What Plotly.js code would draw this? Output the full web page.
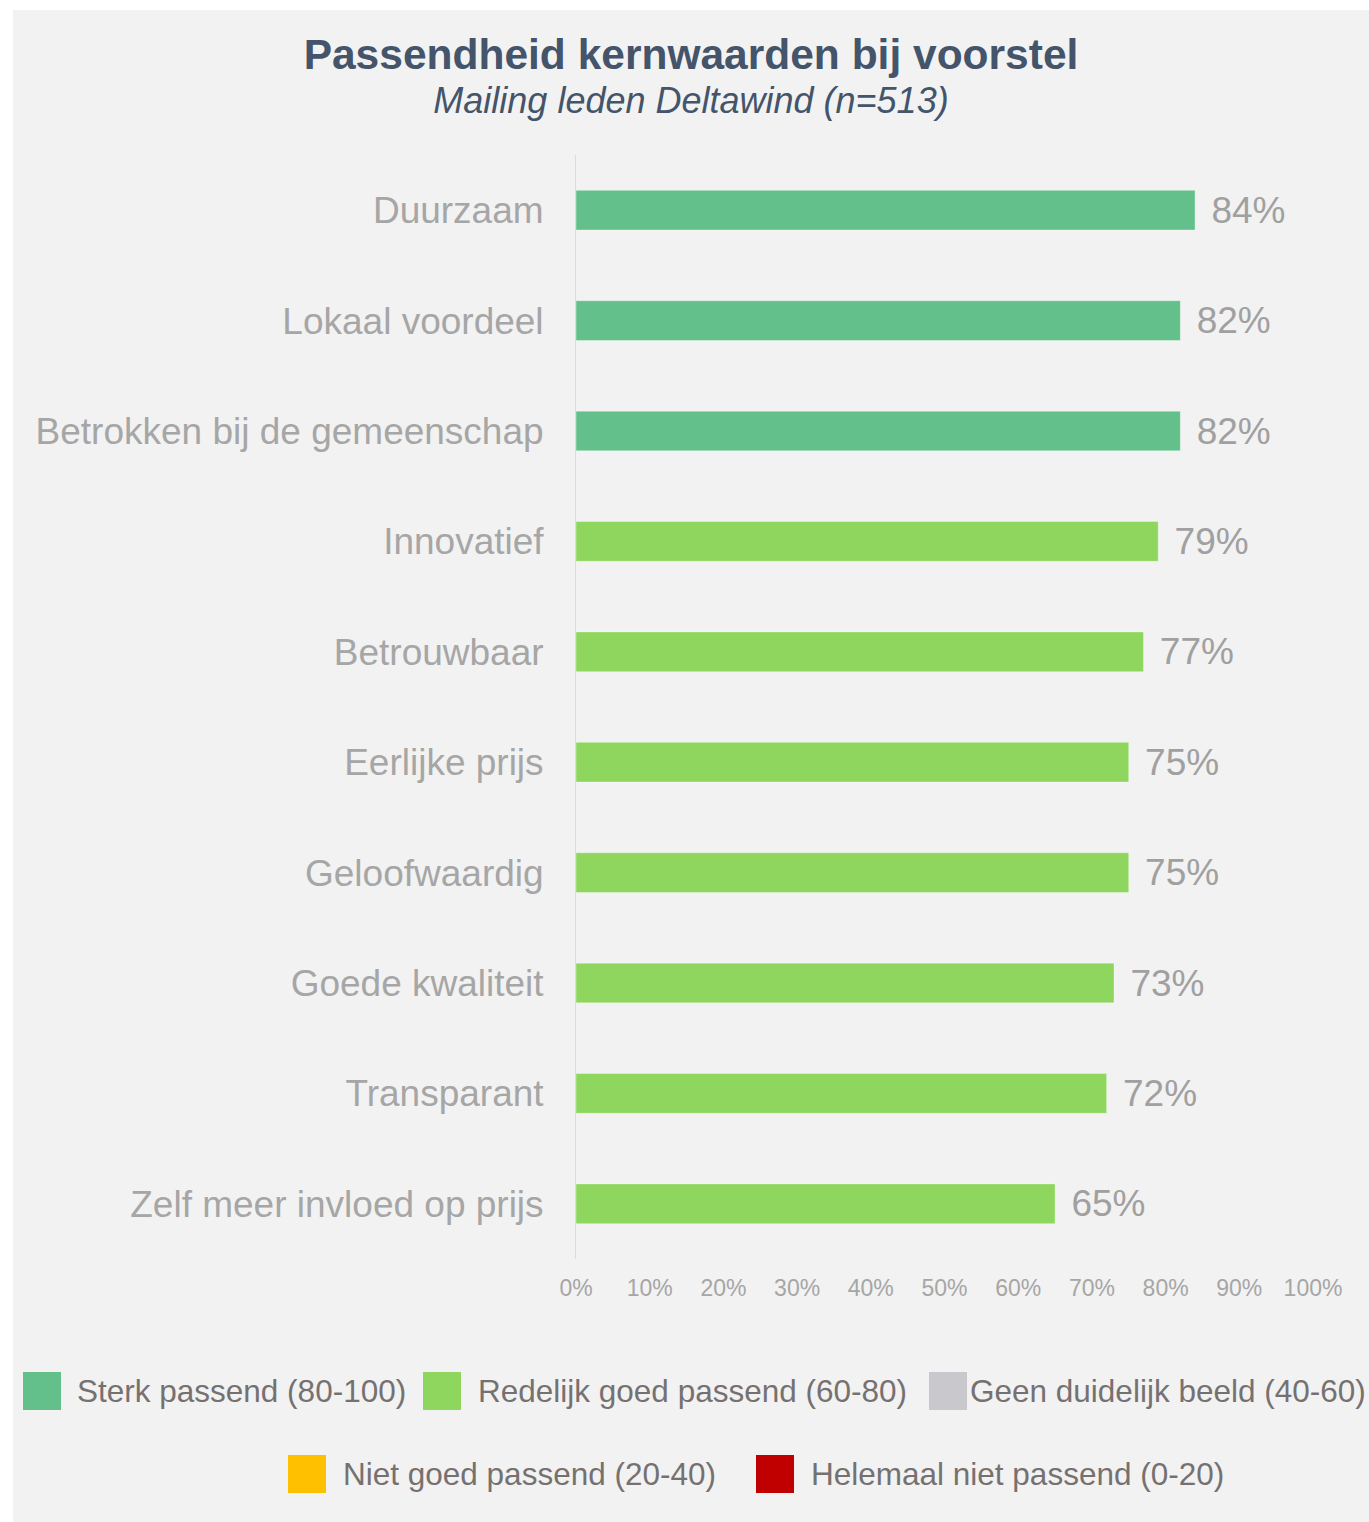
<!DOCTYPE html>
<html>
<head>
<meta charset="utf-8">
<script src="https://cdn.plot.ly/plotly-3.0.1.min.js"></script>
<style>
  html, body { margin: 0; padding: 0; background: #ffffff; width: 1369px; height: 1522px; overflow: hidden; }
  #chart { position: absolute; left: 13px; top: 10px; width: 1356px; height: 1512px; }
</style>
</head>
<body>
<div id="chart"></div>
<script>
// ---- data ----
const categories = [
  "Duurzaam",
  "Lokaal voordeel",
  "Betrokken bij de gemeenschap",
  "Innovatief",
  "Betrouwbaar",
  "Eerlijke prijs",
  "Geloofwaardig",
  "Goede kwaliteit",
  "Transparant",
  "Zelf meer invloed op prijs"
];
const values = [84, 82, 82, 79, 77, 75, 75, 73, 72, 65];

const legendNames = [
  "Sterk passend (80-100)",
  "Redelijk goed passend (60-80)",
  "Geen duidelijk beeld (40-60)",
  "Niet goed passend (20-40)",
  "Helemaal niet passend (0-20)"
];
const legendLower = [80, 60, 40, 20, 0];
const legendColors = ["#63c08b", "#8ed65d", "#c9c8cd", "#ffc000", "#c00000"];

const xTickVals = [0, 10, 20, 30, 40, 50, 60, 70, 80, 90, 100];
const xTickText = ["0%", "10%", "20%", "30%", "40%", "50%", "60%", "70%", "80%", "90%", "100%"];

const titleText = "Passendheid kernwaarden bij voorstel";
const subtitleText = "Mailing leden Deltawind (n=513)";

// ---- helpers ----
function colorFor(v) {
  for (let i = 0; i < legendLower.length; i++) {
    if (v >= legendLower[i]) return legendColors[i];
  }
  return legendColors[legendColors.length - 1];
}

const FONT = "Liberation Sans, Arial, Helvetica, sans-serif";
const W = 1356, H = 1512;
const M = { l: 563, r: 56, t: 145, b: 263 };
const plotW = W - M.l - M.r;
const plotH = H - M.t - M.b;
// page pixel -> paper coords (div is offset 13,10 in page)
function px(xPage) { return (xPage - 13 - M.l) / plotW; }
function py(yPage) { return (H - M.b - (yPage - 10)) / plotH; }

const trace = {
  type: "bar",
  orientation: "h",
  y: categories,
  x: values,
  width: 0.36,
  marker: {
    color: values.map(colorFor),
    line: { color: "rgba(255,255,255,0.35)", width: 1 }
  },
  text: values.map(v => "\u00a0\u200a" + v + "%"),
  textposition: "outside",
  constraintext: "none",
  cliponaxis: false,
  textfont: { family: FONT, size: 37, color: "#a0a0a0" },
  hoverinfo: "skip",
  showlegend: false
};

// ---- manual legend (large square swatches) ----
const legendPos = [
  { sq: 23, tx: 78, cy: 1391 },
  { sq: 423, tx: 479, cy: 1391 },
  { sq: 929, tx: 971, cy: 1391 },
  { sq: 288, tx: 344, cy: 1474 },
  { sq: 756, tx: 812, cy: 1474 }
];
const SQ = 38;
const shapes = [];
const annotations = [];
legendNames.forEach((name, i) => {
  const p = legendPos[i];
  shapes.push({
    type: "rect", xref: "paper", yref: "paper", layer: "above",
    x0: px(p.sq), x1: px(p.sq + SQ),
    y0: py(p.cy + SQ / 2), y1: py(p.cy - SQ / 2),
    fillcolor: legendColors[i], line: { width: 0 }
  });
  annotations.push({
    xref: "paper", yref: "paper",
    x: px(p.tx - 3), y: py(p.cy),
    xanchor: "left", yanchor: "middle",
    text: name, showarrow: false,
    font: { family: FONT, size: 31.5, color: "#767171" }
  });
});

const layout = {
  width: W, height: H,
  paper_bgcolor: "#f2f2f2",
  plot_bgcolor: "#f2f2f2",
  margin: M,
  showlegend: false,
  title: {
    text: '<span style="font-size:42.5px"><b>' + titleText + '</b></span><br>' +
          '<span style="font-size:36px"><i>' + subtitleText + '</i></span>',
    font: { family: FONT, size: 34, color: "#44546a" },
    x: 0.5, xanchor: "center",
    yref: "container", y: 1 - 59 / H, yanchor: "top"
  },
  xaxis: {
    range: [0, 100],
    tickvals: xTickVals,
    ticktext: xTickText,
    showgrid: false,
    zeroline: false,
    showline: false,
    ticks: "",
    ticklabelstandoff: 13,
    tickfont: { family: FONT, size: 23, color: "#a6a6a6" },
    fixedrange: true
  },
  yaxis: {
    type: "category",
    autorange: "reversed",
    showgrid: false,
    zeroline: false,
    showline: true,
    linecolor: "#dcdcdc",
    linewidth: 1,
    ticks: "",
    ticklabelstandoff: 24,
    tickfont: { family: FONT, size: 37, color: "#a6a6a6" },
    fixedrange: true
  },
  shapes: shapes,
  annotations: annotations
};

Plotly.newPlot("chart", [trace], layout, { staticPlot: true, displayModeBar: false });
</script>
</body>
</html>
